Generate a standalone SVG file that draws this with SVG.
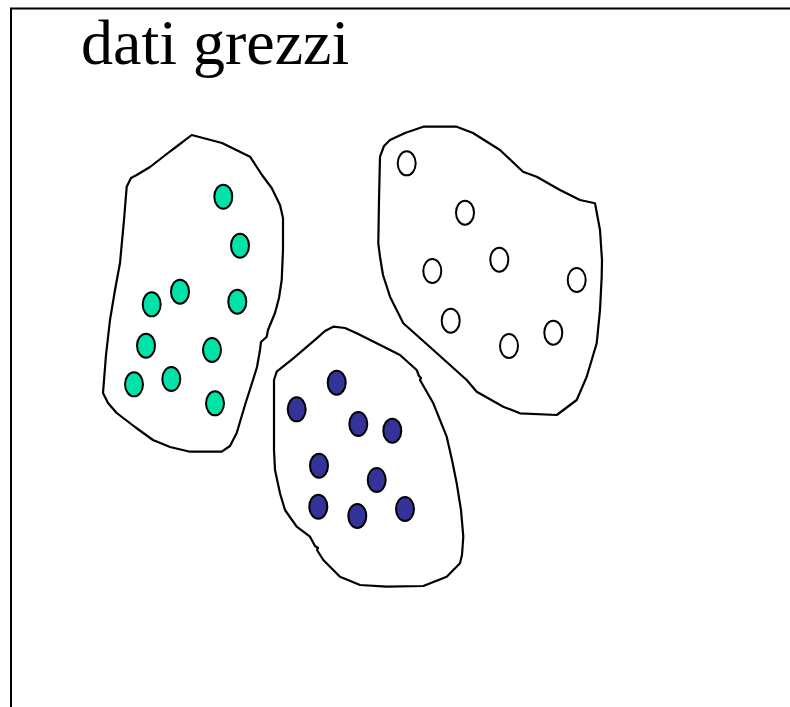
<svg xmlns="http://www.w3.org/2000/svg" width="790" height="707" viewBox="0 0 790 707">
<style>
.blob{fill:none;stroke:#000;stroke-width:2.2;stroke-linejoin:round;stroke-linecap:round}
.dot{stroke:#000;stroke-width:2}
.g{fill:#00E3A8}
.b{fill:#333399}
.w{fill:#fff}
.title{font-family:"Liberation Serif","Times New Roman",serif;font-size:64px;fill:#000}
</style>
<rect width="790" height="707" fill="#fff"/>
<path d="M11,707 V8.5 H790" fill="none" stroke="#000" stroke-width="2"/>
<text class="title" x="81" y="64">dati grezzi</text>
<g id="cluster-green">
<path class="blob" d="M191.7,135 L222,143 L250,156.7 L262,175 L271.7,188 L280,205 L283,218 L283,250 L281.7,280 L279,298 L275,313 L268,330 L266.7,336.7 L261,342 L260,350 L257,367 L253,380 L245,405 L236.7,433 L230,446 L221.7,451.7 L190,451.7 L170,447 L153,440 L135,427 L116.7,413 L108,403 L103,393 L106,355 L110,320 L115,290 L120,263 L124,220 L126.7,186.7 L131,178 L136.7,175 L140,173 L150,167 L168,153 L176,147 L191.7,135 Z"/>
<ellipse class="dot g" cx="223.3" cy="196.7" rx="9" ry="12"/>
<ellipse class="dot g" cx="240" cy="245.7" rx="9" ry="12"/>
<ellipse class="dot g" cx="180" cy="291.7" rx="9" ry="12"/>
<ellipse class="dot g" cx="151.7" cy="304.3" rx="9" ry="12"/>
<ellipse class="dot g" cx="237.3" cy="301.7" rx="9" ry="12"/>
<ellipse class="dot g" cx="146" cy="345.7" rx="9" ry="12"/>
<ellipse class="dot g" cx="212" cy="350" rx="9" ry="12"/>
<ellipse class="dot g" cx="171.3" cy="379" rx="9" ry="12"/>
<ellipse class="dot g" cx="134" cy="384.3" rx="9" ry="12"/>
<ellipse class="dot g" cx="215" cy="403.3" rx="9" ry="12"/>
</g>
<g id="cluster-white">
<path class="blob" d="M380,156.7 L384,146 L390,140 L405,133 L423.3,126.7 L456.7,126.7 L473,133 L500,150 L523,171.7 L536.7,176.7 L560,190 L580,200 L595,203.3 L600,230 L602,260 L601.7,276.7 L600,310 L596.7,343.3 L586.7,376.7 L576.7,400 L556.7,415 L520,413.3 L503.3,406.7 L476.7,391.7 L466.7,380 L450,365 L433.3,350 L403.3,323.3 L390,296.7 L383,275 L380,256.7 L378.3,243.3 L379,200 Z"/>
<ellipse class="dot w" cx="406.7" cy="163.3" rx="9" ry="12"/>
<ellipse class="dot w" cx="465" cy="212.7" rx="9" ry="12"/>
<ellipse class="dot w" cx="432.3" cy="271" rx="9" ry="12"/>
<ellipse class="dot w" cx="499.3" cy="259.7" rx="9" ry="12"/>
<ellipse class="dot w" cx="576.7" cy="280" rx="9" ry="12"/>
<ellipse class="dot w" cx="450.7" cy="320.7" rx="9" ry="12"/>
<ellipse class="dot w" cx="509" cy="346" rx="9" ry="12"/>
<ellipse class="dot w" cx="553.3" cy="332.7" rx="9" ry="12"/>
</g>
<g id="cluster-blue">
<path class="blob" d="M333.3,326.7 L345,328 L356.7,333.3 L376.7,343.3 L400,355 L416.7,370 L419,376 L421,378 L420,380 L433.3,403.3 L446.7,436.7 L452,460 L456.7,483.3 L461,510 L463.3,536.7 L462,555 L460,563.3 L446.7,576.7 L423.3,586 L386.7,586.7 L360,585 L340,576.7 L323.3,560 L317,550 L318,548 L315,546 L310,536.7 L296.7,526.7 L285,510 L280,493.3 L275,470 L274,450 L274,380 L276.7,371.7 L293.3,358.3 L316.7,338.3 L325,331 Z"/>
<ellipse class="dot b" cx="336.7" cy="382.7" rx="9" ry="12"/>
<ellipse class="dot b" cx="296.7" cy="409.3" rx="9" ry="12"/>
<ellipse class="dot b" cx="358.3" cy="424" rx="9" ry="12"/>
<ellipse class="dot b" cx="392.3" cy="430.7" rx="9" ry="12"/>
<ellipse class="dot b" cx="319" cy="465.7" rx="9" ry="12"/>
<ellipse class="dot b" cx="376.7" cy="480" rx="9" ry="12"/>
<ellipse class="dot b" cx="318.3" cy="506.7" rx="9" ry="12"/>
<ellipse class="dot b" cx="357.3" cy="516" rx="9" ry="12"/>
<ellipse class="dot b" cx="405" cy="509" rx="9" ry="12"/>
</g>
<g id="connectors"/>
</svg>
